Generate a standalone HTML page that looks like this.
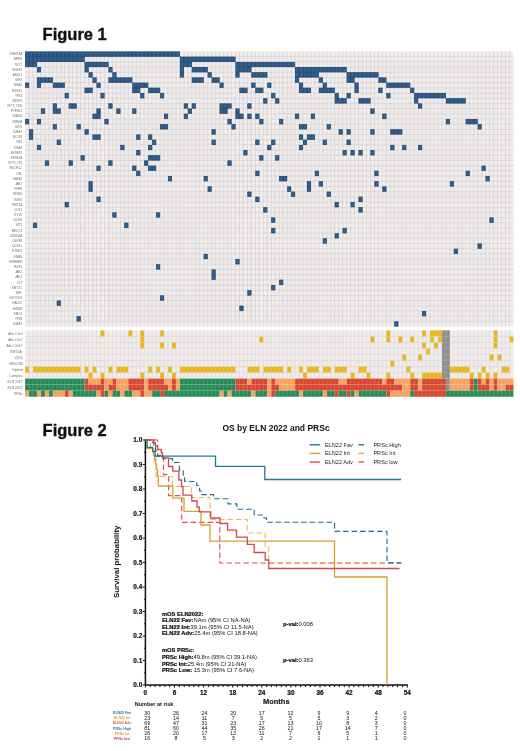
<!DOCTYPE html>
<html><head><meta charset="utf-8"><style>
html,body{margin:0;padding:0;background:#fff;}
body{width:520px;height:751px;overflow:hidden;}
svg{display:block;will-change:transform;font-family:"Liberation Sans",sans-serif;}
</style></head><body>
<svg width="520" height="751" viewBox="0 0 520 751">
<text x="42.6" y="40.3" font-size="16.5" font-weight="bold" fill="#111" stroke="#111" stroke-width="0.35">Figure 1</text>
<rect x="25.1" y="51.5" width="488.31" height="275.07" fill="#f1eded"/>
<path d="M29.07 51.5V326.57M33.04 51.5V326.57M37.01 51.5V326.57M40.98 51.5V326.57M44.95 51.5V326.57M48.92 51.5V326.57M52.89 51.5V326.57M56.86 51.5V326.57M60.83 51.5V326.57M64.8 51.5V326.57M68.77 51.5V326.57M72.74 51.5V326.57M76.71 51.5V326.57M80.68 51.5V326.57M84.65 51.5V326.57M88.62 51.5V326.57M92.59 51.5V326.57M96.56 51.5V326.57M100.53 51.5V326.57M104.5 51.5V326.57M108.47 51.5V326.57M112.44 51.5V326.57M116.41 51.5V326.57M120.38 51.5V326.57M124.35 51.5V326.57M128.32 51.5V326.57M132.29 51.5V326.57M136.26 51.5V326.57M140.23 51.5V326.57M144.2 51.5V326.57M148.17 51.5V326.57M152.14 51.5V326.57M156.11 51.5V326.57M160.08 51.5V326.57M164.05 51.5V326.57M168.02 51.5V326.57M171.99 51.5V326.57M175.96 51.5V326.57M179.93 51.5V326.57M183.9 51.5V326.57M187.87 51.5V326.57M191.84 51.5V326.57M195.81 51.5V326.57M199.78 51.5V326.57M203.75 51.5V326.57M207.72 51.5V326.57M211.69 51.5V326.57M215.66 51.5V326.57M219.63 51.5V326.57M223.6 51.5V326.57M227.57 51.5V326.57M231.54 51.5V326.57M235.51 51.5V326.57M239.48 51.5V326.57M243.45 51.5V326.57M247.42 51.5V326.57M251.39 51.5V326.57M255.36 51.5V326.57M259.33 51.5V326.57M263.3 51.5V326.57M267.27 51.5V326.57M271.24 51.5V326.57M275.21 51.5V326.57M279.18 51.5V326.57M283.15 51.5V326.57M287.12 51.5V326.57M291.09 51.5V326.57M295.06 51.5V326.57M299.03 51.5V326.57M303 51.5V326.57M306.97 51.5V326.57M310.94 51.5V326.57M314.91 51.5V326.57M318.88 51.5V326.57M322.85 51.5V326.57M326.82 51.5V326.57M330.79 51.5V326.57M334.76 51.5V326.57M338.73 51.5V326.57M342.7 51.5V326.57M346.67 51.5V326.57M350.64 51.5V326.57M354.61 51.5V326.57M358.58 51.5V326.57M362.55 51.5V326.57M366.52 51.5V326.57M370.49 51.5V326.57M374.46 51.5V326.57M378.43 51.5V326.57M382.4 51.5V326.57M386.37 51.5V326.57M390.34 51.5V326.57M394.31 51.5V326.57M398.28 51.5V326.57M402.25 51.5V326.57M406.22 51.5V326.57M410.19 51.5V326.57M414.16 51.5V326.57M418.13 51.5V326.57M422.1 51.5V326.57M426.07 51.5V326.57M430.04 51.5V326.57M434.01 51.5V326.57M437.98 51.5V326.57M441.95 51.5V326.57M445.92 51.5V326.57M449.89 51.5V326.57M453.86 51.5V326.57M457.83 51.5V326.57M461.8 51.5V326.57M465.77 51.5V326.57M469.74 51.5V326.57M473.71 51.5V326.57M477.68 51.5V326.57M481.65 51.5V326.57M485.62 51.5V326.57M489.59 51.5V326.57M493.56 51.5V326.57M497.53 51.5V326.57M501.5 51.5V326.57M505.47 51.5V326.57M509.44 51.5V326.57M25.1 56.69H513.41M25.1 61.88H513.41M25.1 67.07H513.41M25.1 72.26H513.41M25.1 77.45H513.41M25.1 82.64H513.41M25.1 87.83H513.41M25.1 93.02H513.41M25.1 98.21H513.41M25.1 103.4H513.41M25.1 108.59H513.41M25.1 113.78H513.41M25.1 118.97H513.41M25.1 124.16H513.41M25.1 129.35H513.41M25.1 134.54H513.41M25.1 139.73H513.41M25.1 144.92H513.41M25.1 150.11H513.41M25.1 155.3H513.41M25.1 160.49H513.41M25.1 165.68H513.41M25.1 170.87H513.41M25.1 176.06H513.41M25.1 181.25H513.41M25.1 186.44H513.41M25.1 191.63H513.41M25.1 196.82H513.41M25.1 202.01H513.41M25.1 207.2H513.41M25.1 212.39H513.41M25.1 217.58H513.41M25.1 222.77H513.41M25.1 227.96H513.41M25.1 233.15H513.41M25.1 238.34H513.41M25.1 243.53H513.41M25.1 248.72H513.41M25.1 253.91H513.41M25.1 259.1H513.41M25.1 264.29H513.41M25.1 269.48H513.41M25.1 274.67H513.41M25.1 279.86H513.41M25.1 285.05H513.41M25.1 290.24H513.41M25.1 295.43H513.41M25.1 300.62H513.41M25.1 305.81H513.41M25.1 311H513.41M25.1 316.19H513.41M25.1 321.38H513.41" stroke="#d0c9c9" stroke-opacity="0.9" stroke-width="0.6" fill="none"/>
<path d="M25.1 51.5h154.83v5.19h-154.83zM25.1 56.69h59.55v5.19h-59.55zM179.93 56.69h55.58v5.19h-55.58zM25.1 61.88h11.91v5.19h-11.91zM84.65 61.88h23.82v5.19h-23.82zM179.93 61.88h11.91v5.19h-11.91zM235.51 61.88h59.55v5.19h-59.55zM37.01 67.07h3.97v5.19h-3.97zM84.65 67.07h3.97v5.19h-3.97zM108.47 67.07h3.97v5.19h-3.97zM179.93 67.07h3.97v5.19h-3.97zM191.84 67.07h15.88v5.19h-15.88zM235.51 67.07h15.88v5.19h-15.88zM295.06 67.07h51.61v5.19h-51.61zM88.62 72.26h3.97v5.19h-3.97zM112.44 72.26h3.97v5.19h-3.97zM179.93 72.26h3.97v5.19h-3.97zM207.72 72.26h3.97v5.19h-3.97zM235.51 72.26h3.97v5.19h-3.97zM251.39 72.26h15.88v5.19h-15.88zM295.06 72.26h23.82v5.19h-23.82zM346.67 72.26h31.76v5.19h-31.76zM37.01 77.45h15.88v5.19h-15.88zM92.59 77.45h3.97v5.19h-3.97zM108.47 77.45h23.82v5.19h-23.82zM191.84 77.45h11.91v5.19h-11.91zM211.69 77.45h7.94v5.19h-7.94zM295.06 77.45h3.97v5.19h-3.97zM318.88 77.45h3.97v5.19h-3.97zM346.67 77.45h7.94v5.19h-7.94zM378.43 77.45h7.94v5.19h-7.94zM25.1 82.64h3.97v5.19h-3.97zM37.01 82.64h3.97v5.19h-3.97zM52.89 82.64h11.91v5.19h-11.91zM96.56 82.64h3.97v5.19h-3.97zM132.29 82.64h15.88v5.19h-15.88zM219.63 82.64h3.97v5.19h-3.97zM251.39 82.64h3.97v5.19h-3.97zM267.27 82.64h3.97v5.19h-3.97zM299.03 82.64h3.97v5.19h-3.97zM322.85 82.64h3.97v5.19h-3.97zM354.61 82.64h3.97v5.19h-3.97zM386.37 82.64h23.82v5.19h-23.82zM84.65 87.83h7.94v5.19h-7.94zM132.29 87.83h7.94v5.19h-7.94zM148.17 87.83h3.97v5.19h-3.97zM152.14 87.83h7.94v5.19h-7.94zM239.48 87.83h7.94v5.19h-7.94zM255.36 87.83h7.94v5.19h-7.94zM299.03 87.83h11.91v5.19h-11.91zM318.88 87.83h15.88v5.19h-15.88zM354.61 87.83h3.97v5.19h-3.97zM378.43 87.83h3.97v5.19h-3.97zM410.19 87.83h3.97v5.19h-3.97zM64.8 93.02h3.97v5.19h-3.97zM100.53 93.02h3.97v5.19h-3.97zM140.23 93.02h3.97v5.19h-3.97zM160.08 93.02h3.97v5.19h-3.97zM271.24 93.02h3.97v5.19h-3.97zM334.76 93.02h3.97v5.19h-3.97zM346.67 93.02h3.97v5.19h-3.97zM386.37 93.02h3.97v5.19h-3.97zM414.16 93.02h31.76v5.19h-31.76zM263.3 98.21h3.97v5.19h-3.97zM275.21 98.21h3.97v5.19h-3.97zM334.76 98.21h11.91v5.19h-11.91zM358.58 98.21h11.91v5.19h-11.91zM414.16 98.21h3.97v5.19h-3.97zM445.92 98.21h19.85v5.19h-19.85zM52.89 103.4h3.97v5.19h-3.97zM68.77 103.4h7.94v5.19h-7.94zM108.47 103.4h3.97v5.19h-3.97zM183.9 103.4h3.97v5.19h-3.97zM191.84 103.4h3.97v5.19h-3.97zM219.63 103.4h11.91v5.19h-11.91zM247.42 103.4h3.97v5.19h-3.97zM418.13 103.4h3.97v5.19h-3.97zM40.98 108.59h3.97v5.19h-3.97zM52.89 108.59h7.94v5.19h-7.94zM96.56 108.59h3.97v5.19h-3.97zM116.41 108.59h3.97v5.19h-3.97zM132.29 108.59h3.97v5.19h-3.97zM187.87 108.59h3.97v5.19h-3.97zM219.63 108.59h7.94v5.19h-7.94zM235.51 108.59h3.97v5.19h-3.97zM370.49 108.59h3.97v5.19h-3.97zM92.59 113.78h7.94v5.19h-7.94zM164.05 113.78h3.97v5.19h-3.97zM183.9 113.78h3.97v5.19h-3.97zM235.51 113.78h7.94v5.19h-7.94zM247.42 113.78h3.97v5.19h-3.97zM255.36 113.78h3.97v5.19h-3.97zM295.06 113.78h3.97v5.19h-3.97zM310.94 113.78h3.97v5.19h-3.97zM382.4 113.78h3.97v5.19h-3.97zM25.1 118.97h3.97v5.19h-3.97zM37.01 118.97h3.97v5.19h-3.97zM104.5 118.97h3.97v5.19h-3.97zM227.57 118.97h3.97v5.19h-3.97zM259.33 118.97h3.97v5.19h-3.97zM279.18 118.97h3.97v5.19h-3.97zM445.92 118.97h3.97v5.19h-3.97zM465.77 118.97h11.91v5.19h-11.91zM52.89 124.16h3.97v5.19h-3.97zM76.71 124.16h3.97v5.19h-3.97zM160.08 124.16h7.94v5.19h-7.94zM231.54 124.16h3.97v5.19h-3.97zM299.03 124.16h7.94v5.19h-7.94zM326.82 124.16h3.97v5.19h-3.97zM477.68 124.16h3.97v5.19h-3.97zM29.07 129.35h3.97v5.19h-3.97zM84.65 129.35h3.97v5.19h-3.97zM211.69 129.35h3.97v5.19h-3.97zM338.73 129.35h3.97v5.19h-3.97zM346.67 129.35h3.97v5.19h-3.97zM370.49 129.35h3.97v5.19h-3.97zM390.34 129.35h11.91v5.19h-11.91zM29.07 134.54h3.97v5.19h-3.97zM92.59 134.54h7.94v5.19h-7.94zM136.26 134.54h3.97v5.19h-3.97zM148.17 134.54h3.97v5.19h-3.97zM299.03 134.54h3.97v5.19h-3.97zM306.97 134.54h7.94v5.19h-7.94zM56.86 139.73h3.97v5.19h-3.97zM152.14 139.73h3.97v5.19h-3.97zM211.69 139.73h3.97v5.19h-3.97zM255.36 139.73h3.97v5.19h-3.97zM271.24 139.73h3.97v5.19h-3.97zM303 139.73h3.97v5.19h-3.97zM322.85 139.73h3.97v5.19h-3.97zM346.67 139.73h3.97v5.19h-3.97zM37.01 144.92h3.97v5.19h-3.97zM120.38 144.92h3.97v5.19h-3.97zM148.17 144.92h3.97v5.19h-3.97zM267.27 144.92h3.97v5.19h-3.97zM299.03 144.92h3.97v5.19h-3.97zM390.34 144.92h3.97v5.19h-3.97zM402.25 144.92h3.97v5.19h-3.97zM418.13 144.92h3.97v5.19h-3.97zM136.26 150.11h3.97v5.19h-3.97zM243.45 150.11h3.97v5.19h-3.97zM342.7 150.11h3.97v5.19h-3.97zM350.64 150.11h3.97v5.19h-3.97zM358.58 150.11h3.97v5.19h-3.97zM370.49 150.11h3.97v5.19h-3.97zM80.68 155.3h3.97v5.19h-3.97zM148.17 155.3h11.91v5.19h-11.91zM259.33 155.3h3.97v5.19h-3.97zM275.21 155.3h3.97v5.19h-3.97zM44.95 160.49h3.97v5.19h-3.97zM68.77 160.49h3.97v5.19h-3.97zM108.47 160.49h3.97v5.19h-3.97zM144.2 160.49h3.97v5.19h-3.97zM227.57 160.49h3.97v5.19h-3.97zM96.56 165.68h3.97v5.19h-3.97zM132.29 165.68h3.97v5.19h-3.97zM148.17 165.68h7.94v5.19h-7.94zM481.65 165.68h3.97v5.19h-3.97zM136.26 170.87h3.97v5.19h-3.97zM255.36 170.87h3.97v5.19h-3.97zM314.91 170.87h3.97v5.19h-3.97zM374.46 170.87h3.97v5.19h-3.97zM465.77 170.87h3.97v5.19h-3.97zM168.02 176.06h3.97v5.19h-3.97zM203.75 176.06h3.97v5.19h-3.97zM279.18 176.06h7.94v5.19h-7.94zM485.62 176.06h3.97v5.19h-3.97zM88.62 181.25h3.97v5.19h-3.97zM306.97 181.25h3.97v5.19h-3.97zM318.88 181.25h3.97v5.19h-3.97zM374.46 181.25h3.97v5.19h-3.97zM449.89 181.25h3.97v5.19h-3.97zM88.62 186.44h3.97v5.19h-3.97zM207.72 186.44h3.97v5.19h-3.97zM287.12 186.44h3.97v5.19h-3.97zM306.97 186.44h3.97v5.19h-3.97zM382.4 186.44h3.97v5.19h-3.97zM247.42 191.63h3.97v5.19h-3.97zM291.09 191.63h3.97v5.19h-3.97zM326.82 191.63h3.97v5.19h-3.97zM96.56 196.82h3.97v5.19h-3.97zM255.36 196.82h3.97v5.19h-3.97zM358.58 196.82h3.97v5.19h-3.97zM64.8 202.01h3.97v5.19h-3.97zM334.76 202.01h3.97v5.19h-3.97zM350.64 202.01h3.97v5.19h-3.97zM263.3 207.2h3.97v5.19h-3.97zM358.58 207.2h3.97v5.19h-3.97zM112.44 212.39h3.97v5.19h-3.97zM156.11 212.39h3.97v5.19h-3.97zM271.24 217.58h3.97v5.19h-3.97zM489.59 217.58h3.97v5.19h-3.97zM33.04 222.77h3.97v5.19h-3.97zM124.35 222.77h3.97v5.19h-3.97zM271.24 227.96h3.97v5.19h-3.97zM342.7 227.96h3.97v5.19h-3.97zM334.76 233.15h3.97v5.19h-3.97zM322.85 238.34h3.97v5.19h-3.97zM477.68 243.53h3.97v5.19h-3.97zM453.86 248.72h3.97v5.19h-3.97zM203.75 253.91h3.97v5.19h-3.97zM235.51 259.1h3.97v5.19h-3.97zM156.11 264.29h3.97v5.19h-3.97zM211.69 269.48h3.97v5.19h-3.97zM211.69 274.67h3.97v5.19h-3.97zM279.18 279.86h3.97v5.19h-3.97zM271.24 285.05h3.97v5.19h-3.97zM247.42 290.24h3.97v5.19h-3.97zM160.08 295.43h3.97v5.19h-3.97zM56.86 300.62h3.97v5.19h-3.97zM239.48 305.81h3.97v5.19h-3.97zM422.1 311h3.97v5.19h-3.97zM76.71 316.19h3.97v5.19h-3.97zM394.31 321.38h3.97v5.19h-3.97z" fill="#34638f"/>
<path d="M25.5 51.9h3.17v4.39h-3.17zM29.47 51.9h3.17v4.39h-3.17zM33.44 51.9h3.17v4.39h-3.17zM37.41 51.9h3.17v4.39h-3.17zM41.38 51.9h3.17v4.39h-3.17zM45.35 51.9h3.17v4.39h-3.17zM49.32 51.9h3.17v4.39h-3.17zM53.29 51.9h3.17v4.39h-3.17zM57.26 51.9h3.17v4.39h-3.17zM61.23 51.9h3.17v4.39h-3.17zM65.2 51.9h3.17v4.39h-3.17zM69.17 51.9h3.17v4.39h-3.17zM73.14 51.9h3.17v4.39h-3.17zM77.11 51.9h3.17v4.39h-3.17zM81.08 51.9h3.17v4.39h-3.17zM85.05 51.9h3.17v4.39h-3.17zM89.02 51.9h3.17v4.39h-3.17zM92.99 51.9h3.17v4.39h-3.17zM96.96 51.9h3.17v4.39h-3.17zM100.93 51.9h3.17v4.39h-3.17zM104.9 51.9h3.17v4.39h-3.17zM108.87 51.9h3.17v4.39h-3.17zM112.84 51.9h3.17v4.39h-3.17zM116.81 51.9h3.17v4.39h-3.17zM120.78 51.9h3.17v4.39h-3.17zM124.75 51.9h3.17v4.39h-3.17zM128.72 51.9h3.17v4.39h-3.17zM132.69 51.9h3.17v4.39h-3.17zM136.66 51.9h3.17v4.39h-3.17zM140.63 51.9h3.17v4.39h-3.17zM144.6 51.9h3.17v4.39h-3.17zM148.57 51.9h3.17v4.39h-3.17zM152.54 51.9h3.17v4.39h-3.17zM156.51 51.9h3.17v4.39h-3.17zM160.48 51.9h3.17v4.39h-3.17zM164.45 51.9h3.17v4.39h-3.17zM168.42 51.9h3.17v4.39h-3.17zM172.39 51.9h3.17v4.39h-3.17zM176.36 51.9h3.17v4.39h-3.17zM25.5 57.09h3.17v4.39h-3.17zM29.47 57.09h3.17v4.39h-3.17zM33.44 57.09h3.17v4.39h-3.17zM37.41 57.09h3.17v4.39h-3.17zM41.38 57.09h3.17v4.39h-3.17zM45.35 57.09h3.17v4.39h-3.17zM49.32 57.09h3.17v4.39h-3.17zM53.29 57.09h3.17v4.39h-3.17zM57.26 57.09h3.17v4.39h-3.17zM61.23 57.09h3.17v4.39h-3.17zM65.2 57.09h3.17v4.39h-3.17zM69.17 57.09h3.17v4.39h-3.17zM73.14 57.09h3.17v4.39h-3.17zM77.11 57.09h3.17v4.39h-3.17zM81.08 57.09h3.17v4.39h-3.17zM180.33 57.09h3.17v4.39h-3.17zM184.3 57.09h3.17v4.39h-3.17zM188.27 57.09h3.17v4.39h-3.17zM192.24 57.09h3.17v4.39h-3.17zM196.21 57.09h3.17v4.39h-3.17zM200.18 57.09h3.17v4.39h-3.17zM204.15 57.09h3.17v4.39h-3.17zM208.12 57.09h3.17v4.39h-3.17zM212.09 57.09h3.17v4.39h-3.17zM216.06 57.09h3.17v4.39h-3.17zM220.03 57.09h3.17v4.39h-3.17zM224 57.09h3.17v4.39h-3.17zM227.97 57.09h3.17v4.39h-3.17zM231.94 57.09h3.17v4.39h-3.17zM25.5 62.28h3.17v4.39h-3.17zM29.47 62.28h3.17v4.39h-3.17zM33.44 62.28h3.17v4.39h-3.17zM85.05 62.28h3.17v4.39h-3.17zM89.02 62.28h3.17v4.39h-3.17zM92.99 62.28h3.17v4.39h-3.17zM96.96 62.28h3.17v4.39h-3.17zM100.93 62.28h3.17v4.39h-3.17zM104.9 62.28h3.17v4.39h-3.17zM180.33 62.28h3.17v4.39h-3.17zM184.3 62.28h3.17v4.39h-3.17zM188.27 62.28h3.17v4.39h-3.17zM235.91 62.28h3.17v4.39h-3.17zM239.88 62.28h3.17v4.39h-3.17zM243.85 62.28h3.17v4.39h-3.17zM247.82 62.28h3.17v4.39h-3.17zM251.79 62.28h3.17v4.39h-3.17zM255.76 62.28h3.17v4.39h-3.17zM259.73 62.28h3.17v4.39h-3.17zM263.7 62.28h3.17v4.39h-3.17zM267.67 62.28h3.17v4.39h-3.17zM271.64 62.28h3.17v4.39h-3.17zM275.61 62.28h3.17v4.39h-3.17zM279.58 62.28h3.17v4.39h-3.17zM283.55 62.28h3.17v4.39h-3.17zM287.52 62.28h3.17v4.39h-3.17zM291.49 62.28h3.17v4.39h-3.17zM37.41 67.47h3.17v4.39h-3.17zM85.05 67.47h3.17v4.39h-3.17zM108.87 67.47h3.17v4.39h-3.17zM180.33 67.47h3.17v4.39h-3.17zM192.24 67.47h3.17v4.39h-3.17zM196.21 67.47h3.17v4.39h-3.17zM200.18 67.47h3.17v4.39h-3.17zM204.15 67.47h3.17v4.39h-3.17zM235.91 67.47h3.17v4.39h-3.17zM239.88 67.47h3.17v4.39h-3.17zM243.85 67.47h3.17v4.39h-3.17zM247.82 67.47h3.17v4.39h-3.17zM295.46 67.47h3.17v4.39h-3.17zM299.43 67.47h3.17v4.39h-3.17zM303.4 67.47h3.17v4.39h-3.17zM307.37 67.47h3.17v4.39h-3.17zM311.34 67.47h3.17v4.39h-3.17zM315.31 67.47h3.17v4.39h-3.17zM319.28 67.47h3.17v4.39h-3.17zM323.25 67.47h3.17v4.39h-3.17zM327.22 67.47h3.17v4.39h-3.17zM331.19 67.47h3.17v4.39h-3.17zM335.16 67.47h3.17v4.39h-3.17zM339.13 67.47h3.17v4.39h-3.17zM343.1 67.47h3.17v4.39h-3.17zM89.02 72.66h3.17v4.39h-3.17zM112.84 72.66h3.17v4.39h-3.17zM180.33 72.66h3.17v4.39h-3.17zM208.12 72.66h3.17v4.39h-3.17zM235.91 72.66h3.17v4.39h-3.17zM251.79 72.66h3.17v4.39h-3.17zM255.76 72.66h3.17v4.39h-3.17zM259.73 72.66h3.17v4.39h-3.17zM263.7 72.66h3.17v4.39h-3.17zM295.46 72.66h3.17v4.39h-3.17zM299.43 72.66h3.17v4.39h-3.17zM303.4 72.66h3.17v4.39h-3.17zM307.37 72.66h3.17v4.39h-3.17zM311.34 72.66h3.17v4.39h-3.17zM315.31 72.66h3.17v4.39h-3.17zM347.07 72.66h3.17v4.39h-3.17zM351.04 72.66h3.17v4.39h-3.17zM355.01 72.66h3.17v4.39h-3.17zM358.98 72.66h3.17v4.39h-3.17zM362.95 72.66h3.17v4.39h-3.17zM366.92 72.66h3.17v4.39h-3.17zM370.89 72.66h3.17v4.39h-3.17zM374.86 72.66h3.17v4.39h-3.17zM37.41 77.85h3.17v4.39h-3.17zM41.38 77.85h3.17v4.39h-3.17zM45.35 77.85h3.17v4.39h-3.17zM49.32 77.85h3.17v4.39h-3.17zM92.99 77.85h3.17v4.39h-3.17zM108.87 77.85h3.17v4.39h-3.17zM112.84 77.85h3.17v4.39h-3.17zM116.81 77.85h3.17v4.39h-3.17zM120.78 77.85h3.17v4.39h-3.17zM124.75 77.85h3.17v4.39h-3.17zM128.72 77.85h3.17v4.39h-3.17zM192.24 77.85h3.17v4.39h-3.17zM196.21 77.85h3.17v4.39h-3.17zM200.18 77.85h3.17v4.39h-3.17zM212.09 77.85h3.17v4.39h-3.17zM216.06 77.85h3.17v4.39h-3.17zM295.46 77.85h3.17v4.39h-3.17zM319.28 77.85h3.17v4.39h-3.17zM347.07 77.85h3.17v4.39h-3.17zM351.04 77.85h3.17v4.39h-3.17zM378.83 77.85h3.17v4.39h-3.17zM382.8 77.85h3.17v4.39h-3.17zM25.5 83.04h3.17v4.39h-3.17zM37.41 83.04h3.17v4.39h-3.17zM53.29 83.04h3.17v4.39h-3.17zM57.26 83.04h3.17v4.39h-3.17zM61.23 83.04h3.17v4.39h-3.17zM96.96 83.04h3.17v4.39h-3.17zM132.69 83.04h3.17v4.39h-3.17zM136.66 83.04h3.17v4.39h-3.17zM140.63 83.04h3.17v4.39h-3.17zM144.6 83.04h3.17v4.39h-3.17zM220.03 83.04h3.17v4.39h-3.17zM251.79 83.04h3.17v4.39h-3.17zM267.67 83.04h3.17v4.39h-3.17zM299.43 83.04h3.17v4.39h-3.17zM323.25 83.04h3.17v4.39h-3.17zM355.01 83.04h3.17v4.39h-3.17zM386.77 83.04h3.17v4.39h-3.17zM390.74 83.04h3.17v4.39h-3.17zM394.71 83.04h3.17v4.39h-3.17zM398.68 83.04h3.17v4.39h-3.17zM402.65 83.04h3.17v4.39h-3.17zM406.62 83.04h3.17v4.39h-3.17zM85.05 88.23h3.17v4.39h-3.17zM89.02 88.23h3.17v4.39h-3.17zM132.69 88.23h3.17v4.39h-3.17zM136.66 88.23h3.17v4.39h-3.17zM148.57 88.23h3.17v4.39h-3.17zM152.54 88.23h3.17v4.39h-3.17zM156.51 88.23h3.17v4.39h-3.17zM239.88 88.23h3.17v4.39h-3.17zM243.85 88.23h3.17v4.39h-3.17zM255.76 88.23h3.17v4.39h-3.17zM259.73 88.23h3.17v4.39h-3.17zM299.43 88.23h3.17v4.39h-3.17zM303.4 88.23h3.17v4.39h-3.17zM307.37 88.23h3.17v4.39h-3.17zM319.28 88.23h3.17v4.39h-3.17zM323.25 88.23h3.17v4.39h-3.17zM327.22 88.23h3.17v4.39h-3.17zM331.19 88.23h3.17v4.39h-3.17zM355.01 88.23h3.17v4.39h-3.17zM378.83 88.23h3.17v4.39h-3.17zM410.59 88.23h3.17v4.39h-3.17zM65.2 93.42h3.17v4.39h-3.17zM100.93 93.42h3.17v4.39h-3.17zM140.63 93.42h3.17v4.39h-3.17zM160.48 93.42h3.17v4.39h-3.17zM271.64 93.42h3.17v4.39h-3.17zM335.16 93.42h3.17v4.39h-3.17zM347.07 93.42h3.17v4.39h-3.17zM386.77 93.42h3.17v4.39h-3.17zM414.56 93.42h3.17v4.39h-3.17zM418.53 93.42h3.17v4.39h-3.17zM422.5 93.42h3.17v4.39h-3.17zM426.47 93.42h3.17v4.39h-3.17zM430.44 93.42h3.17v4.39h-3.17zM434.41 93.42h3.17v4.39h-3.17zM438.38 93.42h3.17v4.39h-3.17zM442.35 93.42h3.17v4.39h-3.17zM263.7 98.61h3.17v4.39h-3.17zM275.61 98.61h3.17v4.39h-3.17zM335.16 98.61h3.17v4.39h-3.17zM339.13 98.61h3.17v4.39h-3.17zM343.1 98.61h3.17v4.39h-3.17zM358.98 98.61h3.17v4.39h-3.17zM362.95 98.61h3.17v4.39h-3.17zM366.92 98.61h3.17v4.39h-3.17zM414.56 98.61h3.17v4.39h-3.17zM446.32 98.61h3.17v4.39h-3.17zM450.29 98.61h3.17v4.39h-3.17zM454.26 98.61h3.17v4.39h-3.17zM458.23 98.61h3.17v4.39h-3.17zM462.2 98.61h3.17v4.39h-3.17zM53.29 103.8h3.17v4.39h-3.17zM69.17 103.8h3.17v4.39h-3.17zM73.14 103.8h3.17v4.39h-3.17zM108.87 103.8h3.17v4.39h-3.17zM184.3 103.8h3.17v4.39h-3.17zM192.24 103.8h3.17v4.39h-3.17zM220.03 103.8h3.17v4.39h-3.17zM224 103.8h3.17v4.39h-3.17zM227.97 103.8h3.17v4.39h-3.17zM247.82 103.8h3.17v4.39h-3.17zM418.53 103.8h3.17v4.39h-3.17zM41.38 108.99h3.17v4.39h-3.17zM53.29 108.99h3.17v4.39h-3.17zM57.26 108.99h3.17v4.39h-3.17zM96.96 108.99h3.17v4.39h-3.17zM116.81 108.99h3.17v4.39h-3.17zM132.69 108.99h3.17v4.39h-3.17zM188.27 108.99h3.17v4.39h-3.17zM220.03 108.99h3.17v4.39h-3.17zM224 108.99h3.17v4.39h-3.17zM235.91 108.99h3.17v4.39h-3.17zM370.89 108.99h3.17v4.39h-3.17zM92.99 114.18h3.17v4.39h-3.17zM96.96 114.18h3.17v4.39h-3.17zM164.45 114.18h3.17v4.39h-3.17zM184.3 114.18h3.17v4.39h-3.17zM235.91 114.18h3.17v4.39h-3.17zM239.88 114.18h3.17v4.39h-3.17zM247.82 114.18h3.17v4.39h-3.17zM255.76 114.18h3.17v4.39h-3.17zM295.46 114.18h3.17v4.39h-3.17zM311.34 114.18h3.17v4.39h-3.17zM382.8 114.18h3.17v4.39h-3.17zM25.5 119.37h3.17v4.39h-3.17zM37.41 119.37h3.17v4.39h-3.17zM104.9 119.37h3.17v4.39h-3.17zM227.97 119.37h3.17v4.39h-3.17zM259.73 119.37h3.17v4.39h-3.17zM279.58 119.37h3.17v4.39h-3.17zM446.32 119.37h3.17v4.39h-3.17zM466.17 119.37h3.17v4.39h-3.17zM470.14 119.37h3.17v4.39h-3.17zM474.11 119.37h3.17v4.39h-3.17zM53.29 124.56h3.17v4.39h-3.17zM77.11 124.56h3.17v4.39h-3.17zM160.48 124.56h3.17v4.39h-3.17zM164.45 124.56h3.17v4.39h-3.17zM231.94 124.56h3.17v4.39h-3.17zM299.43 124.56h3.17v4.39h-3.17zM303.4 124.56h3.17v4.39h-3.17zM327.22 124.56h3.17v4.39h-3.17zM478.08 124.56h3.17v4.39h-3.17zM29.47 129.75h3.17v4.39h-3.17zM85.05 129.75h3.17v4.39h-3.17zM212.09 129.75h3.17v4.39h-3.17zM339.13 129.75h3.17v4.39h-3.17zM347.07 129.75h3.17v4.39h-3.17zM370.89 129.75h3.17v4.39h-3.17zM390.74 129.75h3.17v4.39h-3.17zM394.71 129.75h3.17v4.39h-3.17zM398.68 129.75h3.17v4.39h-3.17zM29.47 134.94h3.17v4.39h-3.17zM92.99 134.94h3.17v4.39h-3.17zM96.96 134.94h3.17v4.39h-3.17zM136.66 134.94h3.17v4.39h-3.17zM148.57 134.94h3.17v4.39h-3.17zM299.43 134.94h3.17v4.39h-3.17zM307.37 134.94h3.17v4.39h-3.17zM311.34 134.94h3.17v4.39h-3.17zM57.26 140.13h3.17v4.39h-3.17zM152.54 140.13h3.17v4.39h-3.17zM212.09 140.13h3.17v4.39h-3.17zM255.76 140.13h3.17v4.39h-3.17zM271.64 140.13h3.17v4.39h-3.17zM303.4 140.13h3.17v4.39h-3.17zM323.25 140.13h3.17v4.39h-3.17zM347.07 140.13h3.17v4.39h-3.17zM37.41 145.32h3.17v4.39h-3.17zM120.78 145.32h3.17v4.39h-3.17zM148.57 145.32h3.17v4.39h-3.17zM267.67 145.32h3.17v4.39h-3.17zM299.43 145.32h3.17v4.39h-3.17zM390.74 145.32h3.17v4.39h-3.17zM402.65 145.32h3.17v4.39h-3.17zM418.53 145.32h3.17v4.39h-3.17zM136.66 150.51h3.17v4.39h-3.17zM243.85 150.51h3.17v4.39h-3.17zM343.1 150.51h3.17v4.39h-3.17zM351.04 150.51h3.17v4.39h-3.17zM358.98 150.51h3.17v4.39h-3.17zM370.89 150.51h3.17v4.39h-3.17zM81.08 155.7h3.17v4.39h-3.17zM148.57 155.7h3.17v4.39h-3.17zM152.54 155.7h3.17v4.39h-3.17zM156.51 155.7h3.17v4.39h-3.17zM259.73 155.7h3.17v4.39h-3.17zM275.61 155.7h3.17v4.39h-3.17zM45.35 160.89h3.17v4.39h-3.17zM69.17 160.89h3.17v4.39h-3.17zM108.87 160.89h3.17v4.39h-3.17zM144.6 160.89h3.17v4.39h-3.17zM227.97 160.89h3.17v4.39h-3.17zM96.96 166.08h3.17v4.39h-3.17zM132.69 166.08h3.17v4.39h-3.17zM148.57 166.08h3.17v4.39h-3.17zM152.54 166.08h3.17v4.39h-3.17zM482.05 166.08h3.17v4.39h-3.17zM136.66 171.27h3.17v4.39h-3.17zM255.76 171.27h3.17v4.39h-3.17zM315.31 171.27h3.17v4.39h-3.17zM374.86 171.27h3.17v4.39h-3.17zM466.17 171.27h3.17v4.39h-3.17zM168.42 176.46h3.17v4.39h-3.17zM204.15 176.46h3.17v4.39h-3.17zM279.58 176.46h3.17v4.39h-3.17zM283.55 176.46h3.17v4.39h-3.17zM486.02 176.46h3.17v4.39h-3.17zM89.02 181.65h3.17v4.39h-3.17zM307.37 181.65h3.17v4.39h-3.17zM319.28 181.65h3.17v4.39h-3.17zM374.86 181.65h3.17v4.39h-3.17zM450.29 181.65h3.17v4.39h-3.17zM89.02 186.84h3.17v4.39h-3.17zM208.12 186.84h3.17v4.39h-3.17zM287.52 186.84h3.17v4.39h-3.17zM307.37 186.84h3.17v4.39h-3.17zM382.8 186.84h3.17v4.39h-3.17zM247.82 192.03h3.17v4.39h-3.17zM291.49 192.03h3.17v4.39h-3.17zM327.22 192.03h3.17v4.39h-3.17zM96.96 197.22h3.17v4.39h-3.17zM255.76 197.22h3.17v4.39h-3.17zM358.98 197.22h3.17v4.39h-3.17zM65.2 202.41h3.17v4.39h-3.17zM335.16 202.41h3.17v4.39h-3.17zM351.04 202.41h3.17v4.39h-3.17zM263.7 207.6h3.17v4.39h-3.17zM358.98 207.6h3.17v4.39h-3.17zM112.84 212.79h3.17v4.39h-3.17zM156.51 212.79h3.17v4.39h-3.17zM271.64 217.98h3.17v4.39h-3.17zM489.99 217.98h3.17v4.39h-3.17zM33.44 223.17h3.17v4.39h-3.17zM124.75 223.17h3.17v4.39h-3.17zM271.64 228.36h3.17v4.39h-3.17zM343.1 228.36h3.17v4.39h-3.17zM335.16 233.55h3.17v4.39h-3.17zM323.25 238.74h3.17v4.39h-3.17zM478.08 243.93h3.17v4.39h-3.17zM454.26 249.12h3.17v4.39h-3.17zM204.15 254.31h3.17v4.39h-3.17zM235.91 259.5h3.17v4.39h-3.17zM156.51 264.69h3.17v4.39h-3.17zM212.09 269.88h3.17v4.39h-3.17zM212.09 275.07h3.17v4.39h-3.17zM279.58 280.26h3.17v4.39h-3.17zM271.64 285.45h3.17v4.39h-3.17zM247.82 290.64h3.17v4.39h-3.17zM160.48 295.83h3.17v4.39h-3.17zM57.26 301.02h3.17v4.39h-3.17zM239.88 306.21h3.17v4.39h-3.17zM422.5 311.4h3.17v4.39h-3.17zM77.11 316.59h3.17v4.39h-3.17zM394.71 321.78h3.17v4.39h-3.17z" fill="none" stroke="#26486d" stroke-width="0.6"/>
<text x="22.3" y="55.2" font-size="3.1" text-anchor="end" fill="#6e6e6e">DNMT3A</text>
<text x="22.3" y="60.38" font-size="3.1" text-anchor="end" fill="#6e6e6e">NPM1</text>
<text x="22.3" y="65.57" font-size="3.1" text-anchor="end" fill="#6e6e6e">TET2</text>
<text x="22.3" y="70.77" font-size="3.1" text-anchor="end" fill="#6e6e6e">SRSF2</text>
<text x="22.3" y="75.95" font-size="3.1" text-anchor="end" fill="#6e6e6e">ASXL1</text>
<text x="22.3" y="81.14" font-size="3.1" text-anchor="end" fill="#6e6e6e">IDH2</text>
<text x="22.3" y="86.33" font-size="3.1" text-anchor="end" fill="#6e6e6e">NRAS</text>
<text x="22.3" y="91.53" font-size="3.1" text-anchor="end" fill="#6e6e6e">RUNX1</text>
<text x="22.3" y="96.72" font-size="3.1" text-anchor="end" fill="#6e6e6e">TP53</text>
<text x="22.3" y="101.91" font-size="3.1" text-anchor="end" fill="#6e6e6e">ZRSR2</text>
<text x="22.3" y="107.09" font-size="3.1" text-anchor="end" fill="#6e6e6e">FLT3_TKD</text>
<text x="22.3" y="112.28" font-size="3.1" text-anchor="end" fill="#6e6e6e">PTPN11</text>
<text x="22.3" y="117.47" font-size="3.1" text-anchor="end" fill="#6e6e6e">STAG2</text>
<text x="22.3" y="122.67" font-size="3.1" text-anchor="end" fill="#6e6e6e">CEBPA</text>
<text x="22.3" y="127.86" font-size="3.1" text-anchor="end" fill="#6e6e6e">IDH1</text>
<text x="22.3" y="133.04" font-size="3.1" text-anchor="end" fill="#6e6e6e">U2AF1</text>
<text x="22.3" y="138.23" font-size="3.1" text-anchor="end" fill="#6e6e6e">BCOR</text>
<text x="22.3" y="143.42" font-size="3.1" text-anchor="end" fill="#6e6e6e">NF1</text>
<text x="22.3" y="148.61" font-size="3.1" text-anchor="end" fill="#6e6e6e">KRAS</text>
<text x="22.3" y="153.81" font-size="3.1" text-anchor="end" fill="#6e6e6e">SETBP1</text>
<text x="22.3" y="159" font-size="3.1" text-anchor="end" fill="#6e6e6e">ZBTB7A</text>
<text x="22.3" y="164.19" font-size="3.1" text-anchor="end" fill="#6e6e6e">FLT3_ITD</text>
<text x="22.3" y="169.38" font-size="3.1" text-anchor="end" fill="#6e6e6e">BCORL1</text>
<text x="22.3" y="174.56" font-size="3.1" text-anchor="end" fill="#6e6e6e">CBL</text>
<text x="22.3" y="179.76" font-size="3.1" text-anchor="end" fill="#6e6e6e">GATA2</text>
<text x="22.3" y="184.94" font-size="3.1" text-anchor="end" fill="#6e6e6e">JAK2</text>
<text x="22.3" y="190.13" font-size="3.1" text-anchor="end" fill="#6e6e6e">PHF6</text>
<text x="22.3" y="195.33" font-size="3.1" text-anchor="end" fill="#6e6e6e">SF3B1</text>
<text x="22.3" y="200.52" font-size="3.1" text-anchor="end" fill="#6e6e6e">EZH2</text>
<text x="22.3" y="205.71" font-size="3.1" text-anchor="end" fill="#6e6e6e">KMT2A</text>
<text x="22.3" y="210.9" font-size="3.1" text-anchor="end" fill="#6e6e6e">CUX1</text>
<text x="22.3" y="216.09" font-size="3.1" text-anchor="end" fill="#6e6e6e">ETV6</text>
<text x="22.3" y="221.28" font-size="3.1" text-anchor="end" fill="#6e6e6e">GLIS2</text>
<text x="22.3" y="226.47" font-size="3.1" text-anchor="end" fill="#6e6e6e">WT1</text>
<text x="22.3" y="231.66" font-size="3.1" text-anchor="end" fill="#6e6e6e">BRCC3</text>
<text x="22.3" y="236.84" font-size="3.1" text-anchor="end" fill="#6e6e6e">CDKN2A</text>
<text x="22.3" y="242.03" font-size="3.1" text-anchor="end" fill="#6e6e6e">CSF3R</text>
<text x="22.3" y="247.23" font-size="3.1" text-anchor="end" fill="#6e6e6e">DDX41</text>
<text x="22.3" y="252.42" font-size="3.1" text-anchor="end" fill="#6e6e6e">ETNK1</text>
<text x="22.3" y="257.61" font-size="3.1" text-anchor="end" fill="#6e6e6e">GNAS</text>
<text x="22.3" y="262.8" font-size="3.1" text-anchor="end" fill="#6e6e6e">HNRNPK</text>
<text x="22.3" y="267.99" font-size="3.1" text-anchor="end" fill="#6e6e6e">IKZF1</text>
<text x="22.3" y="273.18" font-size="3.1" text-anchor="end" fill="#6e6e6e">JAK1</text>
<text x="22.3" y="278.37" font-size="3.1" text-anchor="end" fill="#6e6e6e">JAK3</text>
<text x="22.3" y="283.56" font-size="3.1" text-anchor="end" fill="#6e6e6e">KIT</text>
<text x="22.3" y="288.75" font-size="3.1" text-anchor="end" fill="#6e6e6e">KMT2C</text>
<text x="22.3" y="293.94" font-size="3.1" text-anchor="end" fill="#6e6e6e">MPL</text>
<text x="22.3" y="299.12" font-size="3.1" text-anchor="end" fill="#6e6e6e">NOTCH1</text>
<text x="22.3" y="304.32" font-size="3.1" text-anchor="end" fill="#6e6e6e">RAD21</text>
<text x="22.3" y="309.51" font-size="3.1" text-anchor="end" fill="#6e6e6e">SH2B3</text>
<text x="22.3" y="314.7" font-size="3.1" text-anchor="end" fill="#6e6e6e">SMC3</text>
<text x="22.3" y="319.89" font-size="3.1" text-anchor="end" fill="#6e6e6e">TP63</text>
<text x="22.3" y="325.08" font-size="3.1" text-anchor="end" fill="#6e6e6e">U2AF2</text>
<rect x="25.1" y="330.4" width="488.31" height="66.33" fill="#f1eded"/>
<path d="M29.07 330.4V396.73M33.04 330.4V396.73M37.01 330.4V396.73M40.98 330.4V396.73M44.95 330.4V396.73M48.92 330.4V396.73M52.89 330.4V396.73M56.86 330.4V396.73M60.83 330.4V396.73M64.8 330.4V396.73M68.77 330.4V396.73M72.74 330.4V396.73M76.71 330.4V396.73M80.68 330.4V396.73M84.65 330.4V396.73M88.62 330.4V396.73M92.59 330.4V396.73M96.56 330.4V396.73M100.53 330.4V396.73M104.5 330.4V396.73M108.47 330.4V396.73M112.44 330.4V396.73M116.41 330.4V396.73M120.38 330.4V396.73M124.35 330.4V396.73M128.32 330.4V396.73M132.29 330.4V396.73M136.26 330.4V396.73M140.23 330.4V396.73M144.2 330.4V396.73M148.17 330.4V396.73M152.14 330.4V396.73M156.11 330.4V396.73M160.08 330.4V396.73M164.05 330.4V396.73M168.02 330.4V396.73M171.99 330.4V396.73M175.96 330.4V396.73M179.93 330.4V396.73M183.9 330.4V396.73M187.87 330.4V396.73M191.84 330.4V396.73M195.81 330.4V396.73M199.78 330.4V396.73M203.75 330.4V396.73M207.72 330.4V396.73M211.69 330.4V396.73M215.66 330.4V396.73M219.63 330.4V396.73M223.6 330.4V396.73M227.57 330.4V396.73M231.54 330.4V396.73M235.51 330.4V396.73M239.48 330.4V396.73M243.45 330.4V396.73M247.42 330.4V396.73M251.39 330.4V396.73M255.36 330.4V396.73M259.33 330.4V396.73M263.3 330.4V396.73M267.27 330.4V396.73M271.24 330.4V396.73M275.21 330.4V396.73M279.18 330.4V396.73M283.15 330.4V396.73M287.12 330.4V396.73M291.09 330.4V396.73M295.06 330.4V396.73M299.03 330.4V396.73M303 330.4V396.73M306.97 330.4V396.73M310.94 330.4V396.73M314.91 330.4V396.73M318.88 330.4V396.73M322.85 330.4V396.73M326.82 330.4V396.73M330.79 330.4V396.73M334.76 330.4V396.73M338.73 330.4V396.73M342.7 330.4V396.73M346.67 330.4V396.73M350.64 330.4V396.73M354.61 330.4V396.73M358.58 330.4V396.73M362.55 330.4V396.73M366.52 330.4V396.73M370.49 330.4V396.73M374.46 330.4V396.73M378.43 330.4V396.73M382.4 330.4V396.73M386.37 330.4V396.73M390.34 330.4V396.73M394.31 330.4V396.73M398.28 330.4V396.73M402.25 330.4V396.73M406.22 330.4V396.73M410.19 330.4V396.73M414.16 330.4V396.73M418.13 330.4V396.73M422.1 330.4V396.73M426.07 330.4V396.73M430.04 330.4V396.73M434.01 330.4V396.73M437.98 330.4V396.73M441.95 330.4V396.73M445.92 330.4V396.73M449.89 330.4V396.73M453.86 330.4V396.73M457.83 330.4V396.73M461.8 330.4V396.73M465.77 330.4V396.73M469.74 330.4V396.73M473.71 330.4V396.73M477.68 330.4V396.73M481.65 330.4V396.73M485.62 330.4V396.73M489.59 330.4V396.73M493.56 330.4V396.73M497.53 330.4V396.73M501.5 330.4V396.73M505.47 330.4V396.73M509.44 330.4V396.73M25.1 336.43H513.41M25.1 342.46H513.41M25.1 348.49H513.41M25.1 354.52H513.41M25.1 360.55H513.41M25.1 366.58H513.41M25.1 372.61H513.41M25.1 378.64H513.41M25.1 384.67H513.41M25.1 390.7H513.41" stroke="#d0c9c9" stroke-opacity="0.9" stroke-width="0.6" fill="none"/>
<rect x="100.53" y="330.4" width="3.97" height="6.03" fill="#e8b821"/>
<rect x="128.32" y="330.4" width="3.97" height="6.03" fill="#e8b821"/>
<rect x="140.23" y="330.4" width="3.97" height="6.03" fill="#e8b821"/>
<rect x="160.08" y="330.4" width="3.97" height="6.03" fill="#e8b821"/>
<rect x="386.37" y="330.4" width="3.97" height="6.03" fill="#e8b821"/>
<rect x="422.1" y="330.4" width="3.97" height="6.03" fill="#e8b821"/>
<rect x="430.04" y="330.4" width="11.91" height="6.03" fill="#e8b821"/>
<rect x="493.56" y="330.4" width="3.97" height="6.03" fill="#e8b821"/>
<rect x="140.23" y="336.43" width="3.97" height="6.03" fill="#e8b821"/>
<rect x="259.33" y="336.43" width="3.97" height="6.03" fill="#e8b821"/>
<rect x="370.49" y="336.43" width="3.97" height="6.03" fill="#e8b821"/>
<rect x="386.37" y="336.43" width="3.97" height="6.03" fill="#e8b821"/>
<rect x="398.28" y="336.43" width="3.97" height="6.03" fill="#e8b821"/>
<rect x="410.19" y="336.43" width="3.97" height="6.03" fill="#e8b821"/>
<rect x="430.04" y="336.43" width="3.97" height="6.03" fill="#e8b821"/>
<rect x="437.98" y="336.43" width="3.97" height="6.03" fill="#e8b821"/>
<rect x="493.56" y="336.43" width="3.97" height="6.03" fill="#e8b821"/>
<rect x="509.44" y="336.43" width="3.97" height="6.03" fill="#e8b821"/>
<rect x="140.23" y="342.46" width="3.97" height="6.03" fill="#e8b821"/>
<rect x="160.08" y="342.46" width="3.97" height="6.03" fill="#e8b821"/>
<rect x="171.99" y="342.46" width="3.97" height="6.03" fill="#e8b821"/>
<rect x="422.1" y="342.46" width="3.97" height="6.03" fill="#e8b821"/>
<rect x="434.01" y="342.46" width="3.97" height="6.03" fill="#e8b821"/>
<rect x="493.56" y="342.46" width="3.97" height="6.03" fill="#e8b821"/>
<rect x="426.07" y="348.49" width="3.97" height="6.03" fill="#e8b821"/>
<rect x="402.25" y="354.52" width="3.97" height="6.03" fill="#e8b821"/>
<rect x="418.13" y="354.52" width="3.97" height="6.03" fill="#e8b821"/>
<rect x="489.59" y="354.52" width="3.97" height="6.03" fill="#e8b821"/>
<rect x="497.53" y="354.52" width="3.97" height="6.03" fill="#e8b821"/>
<rect x="390.34" y="360.55" width="3.97" height="6.03" fill="#e8b821"/>
<rect x="25.1" y="366.58" width="3.97" height="6.03" fill="#e8b821"/>
<rect x="33.04" y="366.58" width="47.64" height="6.03" fill="#e8b821"/>
<rect x="84.65" y="366.58" width="3.97" height="6.03" fill="#e8b821"/>
<rect x="92.59" y="366.58" width="3.97" height="6.03" fill="#e8b821"/>
<rect x="108.47" y="366.58" width="3.97" height="6.03" fill="#e8b821"/>
<rect x="116.41" y="366.58" width="11.91" height="6.03" fill="#e8b821"/>
<rect x="148.17" y="366.58" width="3.97" height="6.03" fill="#e8b821"/>
<rect x="156.11" y="366.58" width="3.97" height="6.03" fill="#e8b821"/>
<rect x="168.02" y="366.58" width="3.97" height="6.03" fill="#e8b821"/>
<rect x="179.93" y="366.58" width="55.58" height="6.03" fill="#e8b821"/>
<rect x="247.42" y="366.58" width="11.91" height="6.03" fill="#e8b821"/>
<rect x="263.3" y="366.58" width="19.85" height="6.03" fill="#e8b821"/>
<rect x="287.12" y="366.58" width="3.97" height="6.03" fill="#e8b821"/>
<rect x="299.03" y="366.58" width="3.97" height="6.03" fill="#e8b821"/>
<rect x="306.97" y="366.58" width="11.91" height="6.03" fill="#e8b821"/>
<rect x="322.85" y="366.58" width="7.94" height="6.03" fill="#e8b821"/>
<rect x="334.76" y="366.58" width="11.91" height="6.03" fill="#e8b821"/>
<rect x="358.58" y="366.58" width="7.94" height="6.03" fill="#e8b821"/>
<rect x="406.22" y="366.58" width="3.97" height="6.03" fill="#e8b821"/>
<rect x="449.89" y="366.58" width="19.85" height="6.03" fill="#e8b821"/>
<rect x="481.65" y="366.58" width="3.97" height="6.03" fill="#e8b821"/>
<rect x="501.5" y="366.58" width="7.94" height="6.03" fill="#e8b821"/>
<rect x="88.62" y="372.61" width="3.97" height="6.03" fill="#e8b821"/>
<rect x="100.53" y="372.61" width="3.97" height="6.03" fill="#e8b821"/>
<rect x="140.23" y="372.61" width="3.97" height="6.03" fill="#e8b821"/>
<rect x="160.08" y="372.61" width="3.97" height="6.03" fill="#e8b821"/>
<rect x="171.99" y="372.61" width="3.97" height="6.03" fill="#e8b821"/>
<rect x="303" y="372.61" width="3.97" height="6.03" fill="#e8b821"/>
<rect x="350.64" y="372.61" width="3.97" height="6.03" fill="#e8b821"/>
<rect x="366.52" y="372.61" width="3.97" height="6.03" fill="#e8b821"/>
<rect x="386.37" y="372.61" width="3.97" height="6.03" fill="#e8b821"/>
<rect x="410.19" y="372.61" width="3.97" height="6.03" fill="#e8b821"/>
<rect x="422.1" y="372.61" width="19.85" height="6.03" fill="#e8b821"/>
<rect x="469.74" y="372.61" width="3.97" height="6.03" fill="#e8b821"/>
<rect x="477.68" y="372.61" width="3.97" height="6.03" fill="#e8b821"/>
<rect x="485.62" y="372.61" width="3.97" height="6.03" fill="#e8b821"/>
<rect x="493.56" y="372.61" width="3.97" height="6.03" fill="#e8b821"/>
<rect x="441.95" y="330.4" width="7.94" height="48.24" fill="#8e8e8e"/>
<rect x="25.1" y="378.64" width="59.55" height="6.03" fill="#278b58"/>
<rect x="84.65" y="378.64" width="3.97" height="6.03" fill="#d8472f"/>
<rect x="88.62" y="378.64" width="11.91" height="6.03" fill="#f5a35e"/>
<rect x="100.53" y="378.64" width="3.97" height="6.03" fill="#d8472f"/>
<rect x="104.5" y="378.64" width="7.94" height="6.03" fill="#f5a35e"/>
<rect x="112.44" y="378.64" width="3.97" height="6.03" fill="#d8472f"/>
<rect x="116.41" y="378.64" width="11.91" height="6.03" fill="#f5a35e"/>
<rect x="128.32" y="378.64" width="15.88" height="6.03" fill="#d8472f"/>
<rect x="144.2" y="378.64" width="3.97" height="6.03" fill="#f5a35e"/>
<rect x="148.17" y="378.64" width="15.88" height="6.03" fill="#d8472f"/>
<rect x="164.05" y="378.64" width="7.94" height="6.03" fill="#f5a35e"/>
<rect x="171.99" y="378.64" width="3.97" height="6.03" fill="#d8472f"/>
<rect x="175.96" y="378.64" width="3.97" height="6.03" fill="#f5a35e"/>
<rect x="179.93" y="378.64" width="55.58" height="6.03" fill="#278b58"/>
<rect x="235.51" y="378.64" width="11.91" height="6.03" fill="#d8472f"/>
<rect x="247.42" y="378.64" width="3.97" height="6.03" fill="#f5a35e"/>
<rect x="251.39" y="378.64" width="15.88" height="6.03" fill="#d8472f"/>
<rect x="267.27" y="378.64" width="3.97" height="6.03" fill="#f5a35e"/>
<rect x="271.24" y="378.64" width="3.97" height="6.03" fill="#d8472f"/>
<rect x="275.21" y="378.64" width="19.85" height="6.03" fill="#f5a35e"/>
<rect x="295.06" y="378.64" width="43.67" height="6.03" fill="#d8472f"/>
<rect x="338.73" y="378.64" width="7.94" height="6.03" fill="#f5a35e"/>
<rect x="346.67" y="378.64" width="35.73" height="6.03" fill="#d8472f"/>
<rect x="382.4" y="378.64" width="3.97" height="6.03" fill="#f5a35e"/>
<rect x="386.37" y="378.64" width="7.94" height="6.03" fill="#d8472f"/>
<rect x="394.31" y="378.64" width="15.88" height="6.03" fill="#f5a35e"/>
<rect x="410.19" y="378.64" width="7.94" height="6.03" fill="#d8472f"/>
<rect x="418.13" y="378.64" width="3.97" height="6.03" fill="#f5a35e"/>
<rect x="422.1" y="378.64" width="23.82" height="6.03" fill="#d8472f"/>
<rect x="445.92" y="378.64" width="3.97" height="6.03" fill="#8e8e8e"/>
<rect x="449.89" y="378.64" width="19.85" height="6.03" fill="#f5a35e"/>
<rect x="469.74" y="378.64" width="3.97" height="6.03" fill="#d8472f"/>
<rect x="473.71" y="378.64" width="3.97" height="6.03" fill="#278b58"/>
<rect x="477.68" y="378.64" width="3.97" height="6.03" fill="#d8472f"/>
<rect x="481.65" y="378.64" width="3.97" height="6.03" fill="#f5a35e"/>
<rect x="485.62" y="378.64" width="3.97" height="6.03" fill="#d8472f"/>
<rect x="489.59" y="378.64" width="3.97" height="6.03" fill="#f5a35e"/>
<rect x="493.56" y="378.64" width="3.97" height="6.03" fill="#d8472f"/>
<rect x="497.53" y="378.64" width="15.88" height="6.03" fill="#f5a35e"/>
<rect x="25.1" y="384.67" width="59.55" height="6.03" fill="#278b58"/>
<rect x="84.65" y="384.67" width="19.85" height="6.03" fill="#d8472f"/>
<rect x="104.5" y="384.67" width="3.97" height="6.03" fill="#f5a35e"/>
<rect x="108.47" y="384.67" width="7.94" height="6.03" fill="#d8472f"/>
<rect x="116.41" y="384.67" width="11.91" height="6.03" fill="#f5a35e"/>
<rect x="128.32" y="384.67" width="15.88" height="6.03" fill="#d8472f"/>
<rect x="144.2" y="384.67" width="3.97" height="6.03" fill="#f5a35e"/>
<rect x="148.17" y="384.67" width="19.85" height="6.03" fill="#d8472f"/>
<rect x="168.02" y="384.67" width="3.97" height="6.03" fill="#f5a35e"/>
<rect x="171.99" y="384.67" width="3.97" height="6.03" fill="#d8472f"/>
<rect x="175.96" y="384.67" width="3.97" height="6.03" fill="#f5a35e"/>
<rect x="179.93" y="384.67" width="55.58" height="6.03" fill="#278b58"/>
<rect x="235.51" y="384.67" width="31.76" height="6.03" fill="#d8472f"/>
<rect x="267.27" y="384.67" width="3.97" height="6.03" fill="#f5a35e"/>
<rect x="271.24" y="384.67" width="7.94" height="6.03" fill="#d8472f"/>
<rect x="279.18" y="384.67" width="15.88" height="6.03" fill="#f5a35e"/>
<rect x="295.06" y="384.67" width="107.19" height="6.03" fill="#d8472f"/>
<rect x="402.25" y="384.67" width="7.94" height="6.03" fill="#f5a35e"/>
<rect x="410.19" y="384.67" width="7.94" height="6.03" fill="#d8472f"/>
<rect x="418.13" y="384.67" width="3.97" height="6.03" fill="#f5a35e"/>
<rect x="422.1" y="384.67" width="23.82" height="6.03" fill="#d8472f"/>
<rect x="445.92" y="384.67" width="3.97" height="6.03" fill="#8e8e8e"/>
<rect x="449.89" y="384.67" width="19.85" height="6.03" fill="#f5a35e"/>
<rect x="469.74" y="384.67" width="3.97" height="6.03" fill="#d8472f"/>
<rect x="473.71" y="384.67" width="3.97" height="6.03" fill="#278b58"/>
<rect x="477.68" y="384.67" width="11.91" height="6.03" fill="#d8472f"/>
<rect x="489.59" y="384.67" width="3.97" height="6.03" fill="#f5a35e"/>
<rect x="493.56" y="384.67" width="3.97" height="6.03" fill="#d8472f"/>
<rect x="497.53" y="384.67" width="7.94" height="6.03" fill="#f5a35e"/>
<rect x="505.47" y="384.67" width="7.94" height="6.03" fill="#d8472f"/>
<rect x="25.1" y="390.7" width="3.97" height="6.03" fill="#f5a35e"/>
<rect x="29.07" y="390.7" width="7.94" height="6.03" fill="#278b58"/>
<rect x="37.01" y="390.7" width="3.97" height="6.03" fill="#f5a35e"/>
<rect x="40.98" y="390.7" width="3.97" height="6.03" fill="#278b58"/>
<rect x="44.95" y="390.7" width="3.97" height="6.03" fill="#f5a35e"/>
<rect x="48.92" y="390.7" width="3.97" height="6.03" fill="#278b58"/>
<rect x="52.89" y="390.7" width="11.91" height="6.03" fill="#f5a35e"/>
<rect x="64.8" y="390.7" width="3.97" height="6.03" fill="#d8472f"/>
<rect x="68.77" y="390.7" width="3.97" height="6.03" fill="#f5a35e"/>
<rect x="72.74" y="390.7" width="23.82" height="6.03" fill="#278b58"/>
<rect x="96.56" y="390.7" width="3.97" height="6.03" fill="#f5a35e"/>
<rect x="100.53" y="390.7" width="3.97" height="6.03" fill="#d8472f"/>
<rect x="104.5" y="390.7" width="3.97" height="6.03" fill="#278b58"/>
<rect x="108.47" y="390.7" width="3.97" height="6.03" fill="#f5a35e"/>
<rect x="112.44" y="390.7" width="7.94" height="6.03" fill="#278b58"/>
<rect x="120.38" y="390.7" width="3.97" height="6.03" fill="#f5a35e"/>
<rect x="124.35" y="390.7" width="7.94" height="6.03" fill="#278b58"/>
<rect x="132.29" y="390.7" width="7.94" height="6.03" fill="#f5a35e"/>
<rect x="140.23" y="390.7" width="3.97" height="6.03" fill="#d8472f"/>
<rect x="144.2" y="390.7" width="7.94" height="6.03" fill="#f5a35e"/>
<rect x="152.14" y="390.7" width="7.94" height="6.03" fill="#278b58"/>
<rect x="160.08" y="390.7" width="3.97" height="6.03" fill="#d8472f"/>
<rect x="164.05" y="390.7" width="55.58" height="6.03" fill="#278b58"/>
<rect x="219.63" y="390.7" width="3.97" height="6.03" fill="#f5a35e"/>
<rect x="223.6" y="390.7" width="3.97" height="6.03" fill="#278b58"/>
<rect x="227.57" y="390.7" width="3.97" height="6.03" fill="#f5a35e"/>
<rect x="231.54" y="390.7" width="19.85" height="6.03" fill="#278b58"/>
<rect x="251.39" y="390.7" width="3.97" height="6.03" fill="#f5a35e"/>
<rect x="255.36" y="390.7" width="11.91" height="6.03" fill="#278b58"/>
<rect x="267.27" y="390.7" width="3.97" height="6.03" fill="#f5a35e"/>
<rect x="271.24" y="390.7" width="3.97" height="6.03" fill="#d8472f"/>
<rect x="275.21" y="390.7" width="23.82" height="6.03" fill="#278b58"/>
<rect x="299.03" y="390.7" width="3.97" height="6.03" fill="#f5a35e"/>
<rect x="303" y="390.7" width="19.85" height="6.03" fill="#278b58"/>
<rect x="322.85" y="390.7" width="3.97" height="6.03" fill="#f5a35e"/>
<rect x="326.82" y="390.7" width="7.94" height="6.03" fill="#278b58"/>
<rect x="334.76" y="390.7" width="3.97" height="6.03" fill="#d8472f"/>
<rect x="338.73" y="390.7" width="7.94" height="6.03" fill="#278b58"/>
<rect x="346.67" y="390.7" width="3.97" height="6.03" fill="#d8472f"/>
<rect x="350.64" y="390.7" width="3.97" height="6.03" fill="#278b58"/>
<rect x="354.61" y="390.7" width="3.97" height="6.03" fill="#f5a35e"/>
<rect x="358.58" y="390.7" width="27.79" height="6.03" fill="#278b58"/>
<rect x="386.37" y="390.7" width="3.97" height="6.03" fill="#d8472f"/>
<rect x="390.34" y="390.7" width="19.85" height="6.03" fill="#f5a35e"/>
<rect x="410.19" y="390.7" width="3.97" height="6.03" fill="#278b58"/>
<rect x="414.16" y="390.7" width="31.76" height="6.03" fill="#d8472f"/>
<rect x="445.92" y="390.7" width="67.49" height="6.03" fill="#278b58"/>
<path d="M29.07 330.4V396.73M33.04 330.4V396.73M37.01 330.4V396.73M40.98 330.4V396.73M44.95 330.4V396.73M48.92 330.4V396.73M52.89 330.4V396.73M56.86 330.4V396.73M60.83 330.4V396.73M64.8 330.4V396.73M68.77 330.4V396.73M72.74 330.4V396.73M76.71 330.4V396.73M80.68 330.4V396.73M84.65 330.4V396.73M88.62 330.4V396.73M92.59 330.4V396.73M96.56 330.4V396.73M100.53 330.4V396.73M104.5 330.4V396.73M108.47 330.4V396.73M112.44 330.4V396.73M116.41 330.4V396.73M120.38 330.4V396.73M124.35 330.4V396.73M128.32 330.4V396.73M132.29 330.4V396.73M136.26 330.4V396.73M140.23 330.4V396.73M144.2 330.4V396.73M148.17 330.4V396.73M152.14 330.4V396.73M156.11 330.4V396.73M160.08 330.4V396.73M164.05 330.4V396.73M168.02 330.4V396.73M171.99 330.4V396.73M175.96 330.4V396.73M179.93 330.4V396.73M183.9 330.4V396.73M187.87 330.4V396.73M191.84 330.4V396.73M195.81 330.4V396.73M199.78 330.4V396.73M203.75 330.4V396.73M207.72 330.4V396.73M211.69 330.4V396.73M215.66 330.4V396.73M219.63 330.4V396.73M223.6 330.4V396.73M227.57 330.4V396.73M231.54 330.4V396.73M235.51 330.4V396.73M239.48 330.4V396.73M243.45 330.4V396.73M247.42 330.4V396.73M251.39 330.4V396.73M255.36 330.4V396.73M259.33 330.4V396.73M263.3 330.4V396.73M267.27 330.4V396.73M271.24 330.4V396.73M275.21 330.4V396.73M279.18 330.4V396.73M283.15 330.4V396.73M287.12 330.4V396.73M291.09 330.4V396.73M295.06 330.4V396.73M299.03 330.4V396.73M303 330.4V396.73M306.97 330.4V396.73M310.94 330.4V396.73M314.91 330.4V396.73M318.88 330.4V396.73M322.85 330.4V396.73M326.82 330.4V396.73M330.79 330.4V396.73M334.76 330.4V396.73M338.73 330.4V396.73M342.7 330.4V396.73M346.67 330.4V396.73M350.64 330.4V396.73M354.61 330.4V396.73M358.58 330.4V396.73M362.55 330.4V396.73M366.52 330.4V396.73M370.49 330.4V396.73M374.46 330.4V396.73M378.43 330.4V396.73M382.4 330.4V396.73M386.37 330.4V396.73M390.34 330.4V396.73M394.31 330.4V396.73M398.28 330.4V396.73M402.25 330.4V396.73M406.22 330.4V396.73M410.19 330.4V396.73M414.16 330.4V396.73M418.13 330.4V396.73M422.1 330.4V396.73M426.07 330.4V396.73M430.04 330.4V396.73M434.01 330.4V396.73M437.98 330.4V396.73M441.95 330.4V396.73M445.92 330.4V396.73M449.89 330.4V396.73M453.86 330.4V396.73M457.83 330.4V396.73M461.8 330.4V396.73M465.77 330.4V396.73M469.74 330.4V396.73M473.71 330.4V396.73M477.68 330.4V396.73M481.65 330.4V396.73M485.62 330.4V396.73M489.59 330.4V396.73M493.56 330.4V396.73M497.53 330.4V396.73M501.5 330.4V396.73M505.47 330.4V396.73M509.44 330.4V396.73M25.1 336.43H513.41M25.1 342.46H513.41M25.1 348.49H513.41M25.1 354.52H513.41M25.1 360.55H513.41M25.1 366.58H513.41M25.1 372.61H513.41M25.1 378.64H513.41M25.1 384.67H513.41M25.1 390.7H513.41" stroke="#ffffff" stroke-opacity="0.28" stroke-width="0.5" fill="none"/>
<text x="22.6" y="334.61" font-size="3.4" text-anchor="end" fill="#6e6e6e">Abn Chr5</text>
<text x="22.6" y="340.64" font-size="3.4" text-anchor="end" fill="#6e6e6e">Abn Chr7</text>
<text x="22.6" y="346.67" font-size="3.4" text-anchor="end" fill="#6e6e6e">Abn Chr17</text>
<text x="22.6" y="352.7" font-size="3.4" text-anchor="end" fill="#6e6e6e">KMT2Ar</text>
<text x="22.6" y="358.73" font-size="3.4" text-anchor="end" fill="#6e6e6e">t(6;9)</text>
<text x="22.6" y="364.76" font-size="3.4" text-anchor="end" fill="#6e6e6e">MECOM</text>
<text x="22.6" y="370.79" font-size="3.4" text-anchor="end" fill="#6e6e6e">Diploid</text>
<text x="22.6" y="376.82" font-size="3.4" text-anchor="end" fill="#6e6e6e">Complex</text>
<text x="22.6" y="382.85" font-size="3.4" text-anchor="end" fill="#6e6e6e">ELN 2017</text>
<text x="22.6" y="388.88" font-size="3.4" text-anchor="end" fill="#6e6e6e">ELN 2022</text>
<text x="22.6" y="394.91" font-size="3.4" text-anchor="end" fill="#6e6e6e">PRSc</text>
<text x="42.6" y="436" font-size="16.5" font-weight="bold" fill="#111" stroke="#111" stroke-width="0.35">Figure 2</text>
<text x="276" y="431" font-size="8.5" font-weight="bold" text-anchor="middle" fill="#111">OS by ELN 2022 and PRSc</text>
<path d="M145.4 439.5V685.0H407.8" stroke="#111" stroke-width="1.5" fill="none"/>
<path d="M142.8 685H145.4M142.8 660.5H145.4M142.8 636H145.4M142.8 611.5H145.4M142.8 587H145.4M142.8 562.5H145.4M142.8 538H145.4M142.8 513.5H145.4M142.8 489H145.4M142.8 464.5H145.4M142.8 440H145.4M143.9 672.75H145.4M143.9 648.25H145.4M143.9 623.75H145.4M143.9 599.25H145.4M143.9 574.75H145.4M143.9 550.25H145.4M143.9 525.75H145.4M143.9 501.25H145.4M143.9 476.75H145.4M143.9 452.25H145.4M145.4 685.0V687.6M174.5 685.0V687.6M203.6 685.0V687.6M232.7 685.0V687.6M261.8 685.0V687.6M290.9 685.0V687.6M320 685.0V687.6M349.1 685.0V687.6M378.2 685.0V687.6M407.3 685.0V687.6M150.25 685.0V687.1M155.1 685.0V687.1M159.95 685.0V687.1M164.8 685.0V687.1M169.65 685.0V687.1M179.35 685.0V687.1M184.2 685.0V687.1M189.05 685.0V687.1M193.9 685.0V687.1M198.75 685.0V687.1M208.45 685.0V687.1M213.3 685.0V687.1M218.15 685.0V687.1M223 685.0V687.1M227.85 685.0V687.1M237.55 685.0V687.1M242.4 685.0V687.1M247.25 685.0V687.1M252.1 685.0V687.1M256.95 685.0V687.1M266.65 685.0V687.1M271.5 685.0V687.1M276.35 685.0V687.1M281.2 685.0V687.1M286.05 685.0V687.1M295.75 685.0V687.1M300.6 685.0V687.1M305.45 685.0V687.1M310.3 685.0V687.1M315.15 685.0V687.1M324.85 685.0V687.1M329.7 685.0V687.1M334.55 685.0V687.1M339.4 685.0V687.1M344.25 685.0V687.1M353.95 685.0V687.1M358.8 685.0V687.1M363.65 685.0V687.1M368.5 685.0V687.1M373.35 685.0V687.1M383.05 685.0V687.1M387.9 685.0V687.1M392.75 685.0V687.1M397.6 685.0V687.1M402.45 685.0V687.1" stroke="#111" stroke-width="1" fill="none"/>
<text x="142.2" y="687.3" font-size="6.4" font-weight="bold" text-anchor="end" fill="#111" stroke="#111" stroke-width="0.2">0.0</text>
<text x="142.2" y="662.8" font-size="6.4" font-weight="bold" text-anchor="end" fill="#111" stroke="#111" stroke-width="0.2">0.1</text>
<text x="142.2" y="638.3" font-size="6.4" font-weight="bold" text-anchor="end" fill="#111" stroke="#111" stroke-width="0.2">0.2</text>
<text x="142.2" y="613.8" font-size="6.4" font-weight="bold" text-anchor="end" fill="#111" stroke="#111" stroke-width="0.2">0.3</text>
<text x="142.2" y="589.3" font-size="6.4" font-weight="bold" text-anchor="end" fill="#111" stroke="#111" stroke-width="0.2">0.4</text>
<text x="142.2" y="564.8" font-size="6.4" font-weight="bold" text-anchor="end" fill="#111" stroke="#111" stroke-width="0.2">0.5</text>
<text x="142.2" y="540.3" font-size="6.4" font-weight="bold" text-anchor="end" fill="#111" stroke="#111" stroke-width="0.2">0.6</text>
<text x="142.2" y="515.8" font-size="6.4" font-weight="bold" text-anchor="end" fill="#111" stroke="#111" stroke-width="0.2">0.7</text>
<text x="142.2" y="491.3" font-size="6.4" font-weight="bold" text-anchor="end" fill="#111" stroke="#111" stroke-width="0.2">0.8</text>
<text x="142.2" y="466.8" font-size="6.4" font-weight="bold" text-anchor="end" fill="#111" stroke="#111" stroke-width="0.2">0.9</text>
<text x="142.2" y="442.3" font-size="6.4" font-weight="bold" text-anchor="end" fill="#111" stroke="#111" stroke-width="0.2">1.0</text>
<text x="145.4" y="694.6" font-size="6.4" font-weight="bold" text-anchor="middle" fill="#111" stroke="#111" stroke-width="0.2">0</text>
<text x="174.5" y="694.6" font-size="6.4" font-weight="bold" text-anchor="middle" fill="#111" stroke="#111" stroke-width="0.2">6</text>
<text x="203.6" y="694.6" font-size="6.4" font-weight="bold" text-anchor="middle" fill="#111" stroke="#111" stroke-width="0.2">12</text>
<text x="232.7" y="694.6" font-size="6.4" font-weight="bold" text-anchor="middle" fill="#111" stroke="#111" stroke-width="0.2">18</text>
<text x="261.8" y="694.6" font-size="6.4" font-weight="bold" text-anchor="middle" fill="#111" stroke="#111" stroke-width="0.2">24</text>
<text x="290.9" y="694.6" font-size="6.4" font-weight="bold" text-anchor="middle" fill="#111" stroke="#111" stroke-width="0.2">30</text>
<text x="320" y="694.6" font-size="6.4" font-weight="bold" text-anchor="middle" fill="#111" stroke="#111" stroke-width="0.2">36</text>
<text x="349.1" y="694.6" font-size="6.4" font-weight="bold" text-anchor="middle" fill="#111" stroke="#111" stroke-width="0.2">42</text>
<text x="378.2" y="694.6" font-size="6.4" font-weight="bold" text-anchor="middle" fill="#111" stroke="#111" stroke-width="0.2">48</text>
<text x="407.3" y="694.6" font-size="6.4" font-weight="bold" text-anchor="middle" fill="#111" stroke="#111" stroke-width="0.2">54</text>
<text x="276.3" y="704.2" font-size="7.5" font-weight="bold" stroke="#111" stroke-width="0.15" text-anchor="middle" fill="#111">Months</text>
<text transform="translate(118.6,561.8) rotate(-90)" font-size="7.8" font-weight="bold" text-anchor="middle" fill="#111">Survival probability</text>
<path d="M145.4 440 157.6 440 157.6 455.3 163.5 455.3 163.5 474.6 168.6 474.6 168.6 495.6 181.7 495.6 181.7 522.3 219.8 522.3 219.8 563 402 563" stroke="#d9505a" stroke-width="1.15" fill="none" stroke-dasharray="5.5 3"/>
<path d="M145.4 440 150.5 440 150.5 449.4 156 449.4 156 476.5 172.5 476.5 172.5 486.5 191.5 486.5 191.5 497.5 210 497.5 210 519.5 247.3 519.5 247.3 533 265.2 533 265.2 546.3 268.7 546.3 268.7 563 384 563" stroke="#e2aa3a" stroke-width="1.15" fill="none" stroke-dasharray="5.5 3" stroke-opacity="0.8"/>
<path d="M145.4 440 152.6 440 152.6 442.5 153.9 442.5 153.9 447 155.5 447 155.5 451 157.5 451 157.5 456.2 163 456.2 163 458.6 172.5 458.6 172.5 462.5 179.3 462.5 179.3 469.8 183.2 469.8 183.2 476.5 184.6 476.5 184.6 481.5 196.7 481.5 196.7 485.5 199.6 485.5 199.6 491 201.3 491 201.3 494.6 213.5 494.6 213.5 498.7 228 498.7 228 503.8 236.8 503.8 236.8 509.2 254.2 509.2 254.2 515 264 515 264 518 266.5 518 266.5 522.2 334.5 522.2 334.5 531.3 387 531.3 387 562.8 401 562.8" stroke="#246e88" stroke-width="1.15" fill="none" stroke-dasharray="5.5 3"/>
<path d="M145.4 440 147 440 147 448.3 152.6 448.3 152.6 451 153.5 451 153.5 455 154.5 455 154.5 460 155.5 460 155.5 464 156.5 464 156.5 470 157.5 470 157.5 476 158.3 476 158.3 486 172.8 486 172.8 498.1 184 498.1 184 511.3 201 511.3 201 525 210 525 210 541.2 334.5 541.2 334.5 577 387 577 387 685" stroke="#d9a227" stroke-width="1.3" fill="none"/>
<path d="M145.4 440 154 440 154 443 155.5 443 155.5 446 157.5 446 157.5 449.5 161.3 449.5 161.3 452.8 162.5 452.8 162.5 457.9 168.5 457.9 168.5 466.5 172.8 466.5 172.8 471.2 178.9 471.2 178.9 480 181.5 480 181.5 486.5 183 486.5 183 495.2 191.8 495.2 191.8 501 197 501 197 507 199.3 507 199.3 511.9 210.7 511.9 210.7 518 220 518 220 523.5 227.6 523.5 227.6 530.2 236.5 530.2 236.5 537.2 247.3 537.2 247.3 544.4 254.2 544.4 254.2 552.5 265.2 552.5 265.2 560 268.7 560 268.7 568.5 399.5 568.5" stroke="#cf4a57" stroke-width="1.3" fill="none"/>
<path d="M145.4 440 147 440 147 447.4 152.6 447.4 152.6 451.5 155 451.5 155 456.2 215.5 456.2 215.5 466.3 264.8 466.3 264.8 479.5 401 479.5" stroke="#25798f" stroke-width="1.3" fill="none"/>
<path d="M309.7 444.8H319.8" stroke="#25798f" stroke-width="1.4"/>
<path d="M358.5 444.8H364" stroke="#246e88" stroke-width="1.4"/>
<text x="324.9" y="446.8" font-size="5.6" fill="#1e1e1e">ELN22 Fav</text>
<text x="373.4" y="446.8" font-size="5.6" fill="#1e1e1e">PRSc High</text>
<path d="M309.7 453.4H319.8" stroke="#d9a227" stroke-width="1.4"/>
<path d="M358.5 453.4H364" stroke="#e2aa3a" stroke-width="1.4"/>
<text x="324.9" y="455.4" font-size="5.6" fill="#1e1e1e">ELN22 Int</text>
<text x="373.4" y="455.4" font-size="5.6" fill="#1e1e1e">PRSc Int</text>
<path d="M309.7 462H319.8" stroke="#cf4a57" stroke-width="1.4"/>
<path d="M358.5 462H364" stroke="#d9505a" stroke-width="1.4"/>
<text x="324.9" y="464" font-size="5.6" fill="#1e1e1e">ELN22 Adv</text>
<text x="373.4" y="464" font-size="5.6" fill="#1e1e1e">PRSc low</text>
<text x="161.9" y="616.2" font-size="5.8" fill="#111"><tspan font-weight="bold" stroke="#111" stroke-width="0.22">mOS ELN2022:</tspan></text>
<text x="161.9" y="621.9" font-size="5.8" fill="#111"><tspan font-weight="bold" stroke="#111" stroke-width="0.22">ELN22 Fav:</tspan>NAm (95% CI NA-NA)</text>
<text x="161.9" y="628.6" font-size="5.8" fill="#111"><tspan font-weight="bold" stroke="#111" stroke-width="0.22">ELN22 Int:</tspan>39.1m (95% CI 11.5-NA)</text>
<text x="161.9" y="635.4" font-size="5.8" fill="#111"><tspan font-weight="bold" stroke="#111" stroke-width="0.22">ELN22 Adv:</tspan>25.4m (95% CI 18.8-NA)</text>
<text x="161.9" y="651.9" font-size="5.8" fill="#111"><tspan font-weight="bold" stroke="#111" stroke-width="0.22">mOS PRSc:</tspan></text>
<text x="161.9" y="658.7" font-size="5.8" fill="#111"><tspan font-weight="bold" stroke="#111" stroke-width="0.22">PRSc High:</tspan>49.8m (95% CI 39.1-NA)</text>
<text x="161.9" y="665.5" font-size="5.8" fill="#111"><tspan font-weight="bold" stroke="#111" stroke-width="0.22">PRSc Int:</tspan>25.4m (95% CI 21-NA)</text>
<text x="161.9" y="672.3" font-size="5.8" fill="#111"><tspan font-weight="bold" stroke="#111" stroke-width="0.22">PRSc Low:</tspan> 15.3m (95% CI 7.6-NA)</text>
<text x="283" y="625.6" font-size="5.8" fill="#111"><tspan font-weight="bold" stroke="#111" stroke-width="0.22">p-val:</tspan>0.008</text>
<text x="283" y="662" font-size="5.8" fill="#111"><tspan font-weight="bold" stroke="#111" stroke-width="0.22">p-val:</tspan>0.363</text>
<text x="154" y="706.2" font-size="5.5" font-weight="bold" text-anchor="middle" fill="#111">Number at risk</text>
<text x="122" y="714.1" font-size="3.5" font-weight="bold" text-anchor="middle" fill="#2b6fae">ELN22 Fav</text>
<text x="147.3" y="714.7" font-size="5.3" text-anchor="middle" fill="#111">30</text>
<text x="175.92" y="714.7" font-size="5.3" text-anchor="middle" fill="#111">26</text>
<text x="204.54" y="714.7" font-size="5.3" text-anchor="middle" fill="#111">24</text>
<text x="233.16" y="714.7" font-size="5.3" text-anchor="middle" fill="#111">20</text>
<text x="261.78" y="714.7" font-size="5.3" text-anchor="middle" fill="#111">17</text>
<text x="290.4" y="714.7" font-size="5.3" text-anchor="middle" fill="#111">12</text>
<text x="319.02" y="714.7" font-size="5.3" text-anchor="middle" fill="#111">9</text>
<text x="347.64" y="714.7" font-size="5.3" text-anchor="middle" fill="#111">9</text>
<text x="376.26" y="714.7" font-size="5.3" text-anchor="middle" fill="#111">4</text>
<text x="404.88" y="714.7" font-size="5.3" text-anchor="middle" fill="#111">0</text>
<text x="122" y="719.25" font-size="3.5" font-weight="bold" text-anchor="middle" fill="#d4a72c">ELN22 Int</text>
<text x="147.3" y="719.85" font-size="5.3" text-anchor="middle" fill="#111">23</text>
<text x="175.92" y="719.85" font-size="5.3" text-anchor="middle" fill="#111">14</text>
<text x="204.54" y="719.85" font-size="5.3" text-anchor="middle" fill="#111">11</text>
<text x="233.16" y="719.85" font-size="5.3" text-anchor="middle" fill="#111">7</text>
<text x="261.78" y="719.85" font-size="5.3" text-anchor="middle" fill="#111">5</text>
<text x="290.4" y="719.85" font-size="5.3" text-anchor="middle" fill="#111">5</text>
<text x="319.02" y="719.85" font-size="5.3" text-anchor="middle" fill="#111">5</text>
<text x="347.64" y="719.85" font-size="5.3" text-anchor="middle" fill="#111">3</text>
<text x="376.26" y="719.85" font-size="5.3" text-anchor="middle" fill="#111">2</text>
<text x="404.88" y="719.85" font-size="5.3" text-anchor="middle" fill="#111">0</text>
<text x="122" y="724.4" font-size="3.5" font-weight="bold" text-anchor="middle" fill="#d9623c">ELN22 Adv</text>
<text x="147.3" y="725" font-size="5.3" text-anchor="middle" fill="#111">69</text>
<text x="175.92" y="725" font-size="5.3" text-anchor="middle" fill="#111">47</text>
<text x="204.54" y="725" font-size="5.3" text-anchor="middle" fill="#111">31</text>
<text x="233.16" y="725" font-size="5.3" text-anchor="middle" fill="#111">23</text>
<text x="261.78" y="725" font-size="5.3" text-anchor="middle" fill="#111">17</text>
<text x="290.4" y="725" font-size="5.3" text-anchor="middle" fill="#111">13</text>
<text x="319.02" y="725" font-size="5.3" text-anchor="middle" fill="#111">10</text>
<text x="347.64" y="725" font-size="5.3" text-anchor="middle" fill="#111">8</text>
<text x="376.26" y="725" font-size="5.3" text-anchor="middle" fill="#111">3</text>
<text x="404.88" y="725" font-size="5.3" text-anchor="middle" fill="#111">0</text>
<text x="122" y="729.55" font-size="3.5" font-weight="bold" text-anchor="middle" fill="#2f79b5">PRSc High</text>
<text x="147.3" y="730.15" font-size="5.3" text-anchor="middle" fill="#111">81</text>
<text x="175.92" y="730.15" font-size="5.3" text-anchor="middle" fill="#111">60</text>
<text x="204.54" y="730.15" font-size="5.3" text-anchor="middle" fill="#111">44</text>
<text x="233.16" y="730.15" font-size="5.3" text-anchor="middle" fill="#111">35</text>
<text x="261.78" y="730.15" font-size="5.3" text-anchor="middle" fill="#111">26</text>
<text x="290.4" y="730.15" font-size="5.3" text-anchor="middle" fill="#111">21</text>
<text x="319.02" y="730.15" font-size="5.3" text-anchor="middle" fill="#111">17</text>
<text x="347.64" y="730.15" font-size="5.3" text-anchor="middle" fill="#111">14</text>
<text x="376.26" y="730.15" font-size="5.3" text-anchor="middle" fill="#111">7</text>
<text x="404.88" y="730.15" font-size="5.3" text-anchor="middle" fill="#111">0</text>
<text x="122" y="734.7" font-size="3.5" font-weight="bold" text-anchor="middle" fill="#d4a72c">PRSc Int</text>
<text x="147.3" y="735.3" font-size="5.3" text-anchor="middle" fill="#111">26</text>
<text x="175.92" y="735.3" font-size="5.3" text-anchor="middle" fill="#111">20</text>
<text x="204.54" y="735.3" font-size="5.3" text-anchor="middle" fill="#111">17</text>
<text x="233.16" y="735.3" font-size="5.3" text-anchor="middle" fill="#111">12</text>
<text x="261.78" y="735.3" font-size="5.3" text-anchor="middle" fill="#111">11</text>
<text x="290.4" y="735.3" font-size="5.3" text-anchor="middle" fill="#111">7</text>
<text x="319.02" y="735.3" font-size="5.3" text-anchor="middle" fill="#111">6</text>
<text x="347.64" y="735.3" font-size="5.3" text-anchor="middle" fill="#111">5</text>
<text x="376.26" y="735.3" font-size="5.3" text-anchor="middle" fill="#111">1</text>
<text x="404.88" y="735.3" font-size="5.3" text-anchor="middle" fill="#111">0</text>
<text x="122" y="739.85" font-size="3.5" font-weight="bold" text-anchor="middle" fill="#b8456b">PRSc low</text>
<text x="147.3" y="740.45" font-size="5.3" text-anchor="middle" fill="#111">16</text>
<text x="175.92" y="740.45" font-size="5.3" text-anchor="middle" fill="#111">8</text>
<text x="204.54" y="740.45" font-size="5.3" text-anchor="middle" fill="#111">5</text>
<text x="233.16" y="740.45" font-size="5.3" text-anchor="middle" fill="#111">3</text>
<text x="261.78" y="740.45" font-size="5.3" text-anchor="middle" fill="#111">2</text>
<text x="290.4" y="740.45" font-size="5.3" text-anchor="middle" fill="#111">2</text>
<text x="319.02" y="740.45" font-size="5.3" text-anchor="middle" fill="#111">1</text>
<text x="347.64" y="740.45" font-size="5.3" text-anchor="middle" fill="#111">1</text>
<text x="376.26" y="740.45" font-size="5.3" text-anchor="middle" fill="#111">1</text>
<text x="404.88" y="740.45" font-size="5.3" text-anchor="middle" fill="#111">0</text>
</svg>
</body></html>
